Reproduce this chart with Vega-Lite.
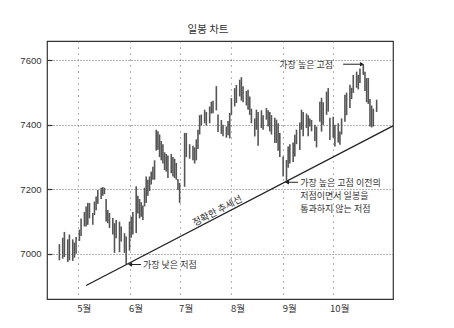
{
  "$schema": "https://vega.github.io/schema/vega-lite/v6.json",
  "width": 346,
  "height": 258,
  "autosize": "none",
  "padding": {"left": 47, "top": 41, "right": 61, "bottom": 29},
  "background": "white",
  "title": {"text": "일봉 차트", "font": "Noto Sans CJK KR", "fontSize": 10.5, "fontWeight": "normal", "color": "#333", "offset": 6, "dx": -12},
  "config": {
    "view": {"stroke": "#333", "strokeWidth": 1.2},
    "axis": {"title": null, "domain": false}
  },
  "datasets": {
    "bars": [
      {"date": "2000-04-20", "high": 7030, "low": 6980},
      {"date": "2000-04-22", "high": 7050, "low": 6985},
      {"date": "2000-04-23", "high": 7068, "low": 6990},
      {"date": "2000-04-25", "high": 7045, "low": 6975},
      {"date": "2000-04-26", "high": 7060, "low": 6980},
      {"date": "2000-04-28", "high": 7045, "low": 6978},
      {"date": "2000-04-29", "high": 7035, "low": 6988},
      {"date": "2000-04-30", "high": 7052, "low": 7000},
      {"date": "2000-05-02", "high": 7075, "low": 7040},
      {"date": "2000-05-03", "high": 7110, "low": 7055},
      {"date": "2000-05-05", "high": 7130, "low": 7085},
      {"date": "2000-05-06", "high": 7147, "low": 7085},
      {"date": "2000-05-07", "high": 7158, "low": 7090},
      {"date": "2000-05-08", "high": 7158, "low": 7110},
      {"date": "2000-05-10", "high": 7127, "low": 7090},
      {"date": "2000-05-11", "high": 7162, "low": 7120},
      {"date": "2000-05-12", "high": 7178, "low": 7135},
      {"date": "2000-05-13", "high": 7198, "low": 7155},
      {"date": "2000-05-15", "high": 7205, "low": 7170},
      {"date": "2000-05-16", "high": 7207, "low": 7180},
      {"date": "2000-05-17", "high": 7205, "low": 7185},
      {"date": "2000-05-18", "high": 7170, "low": 7100},
      {"date": "2000-05-19", "high": 7136, "low": 7095},
      {"date": "2000-05-20", "high": 7127, "low": 7080},
      {"date": "2000-05-22", "high": 7111, "low": 7060},
      {"date": "2000-05-23", "high": 7095, "low": 7003},
      {"date": "2000-05-24", "high": 7105, "low": 7048},
      {"date": "2000-05-26", "high": 7100, "low": 7005},
      {"date": "2000-05-27", "high": 7085, "low": 7038},
      {"date": "2000-05-29", "high": 7064, "low": 7003},
      {"date": "2000-05-30", "high": 7054, "low": 6968},
      {"date": "2000-06-01", "high": 7100, "low": 7010},
      {"date": "2000-06-02", "high": 7115, "low": 7050},
      {"date": "2000-06-03", "high": 7130, "low": 7060},
      {"date": "2000-06-05", "high": 7210, "low": 7065},
      {"date": "2000-06-06", "high": 7180, "low": 7125},
      {"date": "2000-06-07", "high": 7170, "low": 7110},
      {"date": "2000-06-08", "high": 7160, "low": 7115},
      {"date": "2000-06-09", "high": 7150, "low": 7105},
      {"date": "2000-06-10", "high": 7205, "low": 7147},
      {"date": "2000-06-11", "high": 7240, "low": 7158},
      {"date": "2000-06-12", "high": 7230, "low": 7180},
      {"date": "2000-06-13", "high": 7240, "low": 7195},
      {"date": "2000-06-14", "high": 7255, "low": 7215},
      {"date": "2000-06-15", "high": 7270, "low": 7230},
      {"date": "2000-06-16", "high": 7290, "low": 7230},
      {"date": "2000-06-17", "high": 7385, "low": 7320},
      {"date": "2000-06-18", "high": 7380, "low": 7323},
      {"date": "2000-06-19", "high": 7370, "low": 7300},
      {"date": "2000-06-20", "high": 7350, "low": 7290},
      {"date": "2000-06-21", "high": 7340, "low": 7280},
      {"date": "2000-06-22", "high": 7315, "low": 7260},
      {"date": "2000-06-23", "high": 7310, "low": 7255},
      {"date": "2000-06-24", "high": 7305, "low": 7235},
      {"date": "2000-06-26", "high": 7310, "low": 7250},
      {"date": "2000-06-27", "high": 7300, "low": 7240},
      {"date": "2000-06-28", "high": 7295, "low": 7235},
      {"date": "2000-06-29", "high": 7282, "low": 7230},
      {"date": "2000-06-30", "high": 7232, "low": 7198},
      {"date": "2000-07-01", "high": 7220, "low": 7158},
      {"date": "2000-07-04", "high": 7375, "low": 7208},
      {"date": "2000-07-05", "high": 7375, "low": 7300},
      {"date": "2000-07-07", "high": 7340, "low": 7295},
      {"date": "2000-07-09", "high": 7335, "low": 7290},
      {"date": "2000-07-10", "high": 7330, "low": 7280},
      {"date": "2000-07-11", "high": 7355, "low": 7290},
      {"date": "2000-07-12", "high": 7385, "low": 7325},
      {"date": "2000-07-13", "high": 7430, "low": 7370},
      {"date": "2000-07-14", "high": 7432, "low": 7398},
      {"date": "2000-07-16", "high": 7447, "low": 7405},
      {"date": "2000-07-17", "high": 7440, "low": 7398},
      {"date": "2000-07-19", "high": 7457, "low": 7405},
      {"date": "2000-07-20", "high": 7472, "low": 7435},
      {"date": "2000-07-21", "high": 7475, "low": 7436},
      {"date": "2000-07-23", "high": 7520, "low": 7445},
      {"date": "2000-07-24", "high": 7432, "low": 7378},
      {"date": "2000-07-26", "high": 7415, "low": 7372},
      {"date": "2000-07-27", "high": 7400, "low": 7365},
      {"date": "2000-07-29", "high": 7395, "low": 7360},
      {"date": "2000-07-30", "high": 7412, "low": 7368},
      {"date": "2000-07-31", "high": 7437, "low": 7358},
      {"date": "2000-08-01", "high": 7483, "low": 7430},
      {"date": "2000-08-03", "high": 7514, "low": 7457},
      {"date": "2000-08-04", "high": 7524, "low": 7468},
      {"date": "2000-08-06", "high": 7540, "low": 7488},
      {"date": "2000-08-07", "high": 7548, "low": 7475},
      {"date": "2000-08-08", "high": 7520, "low": 7470},
      {"date": "2000-08-10", "high": 7505, "low": 7460},
      {"date": "2000-08-11", "high": 7509, "low": 7447},
      {"date": "2000-08-12", "high": 7488, "low": 7431},
      {"date": "2000-08-13", "high": 7450, "low": 7405},
      {"date": "2000-08-15", "high": 7420, "low": 7364},
      {"date": "2000-08-16", "high": 7447, "low": 7385},
      {"date": "2000-08-17", "high": 7440, "low": 7335},
      {"date": "2000-08-19", "high": 7445, "low": 7390},
      {"date": "2000-08-20", "high": 7430, "low": 7385},
      {"date": "2000-08-22", "high": 7452, "low": 7416},
      {"date": "2000-08-23", "high": 7445, "low": 7395},
      {"date": "2000-08-24", "high": 7440, "low": 7380},
      {"date": "2000-08-25", "high": 7430, "low": 7370},
      {"date": "2000-08-27", "high": 7422, "low": 7344},
      {"date": "2000-08-28", "high": 7416, "low": 7344},
      {"date": "2000-08-29", "high": 7405, "low": 7320},
      {"date": "2000-08-30", "high": 7375, "low": 7300},
      {"date": "2000-09-01", "high": 7302, "low": 7240},
      {"date": "2000-09-03", "high": 7291, "low": 7227},
      {"date": "2000-09-04", "high": 7333, "low": 7267},
      {"date": "2000-09-05", "high": 7340, "low": 7280},
      {"date": "2000-09-07", "high": 7345, "low": 7285},
      {"date": "2000-09-08", "high": 7369, "low": 7302},
      {"date": "2000-09-09", "high": 7385, "low": 7340},
      {"date": "2000-09-11", "high": 7407, "low": 7322},
      {"date": "2000-09-12", "high": 7447, "low": 7385},
      {"date": "2000-09-13", "high": 7440, "low": 7365},
      {"date": "2000-09-15", "high": 7435, "low": 7390},
      {"date": "2000-09-16", "high": 7430, "low": 7365},
      {"date": "2000-09-17", "high": 7420, "low": 7395},
      {"date": "2000-09-18", "high": 7415, "low": 7380},
      {"date": "2000-09-20", "high": 7400, "low": 7350},
      {"date": "2000-09-21", "high": 7395, "low": 7330},
      {"date": "2000-09-23", "high": 7472, "low": 7410},
      {"date": "2000-09-24", "high": 7484, "low": 7379},
      {"date": "2000-09-25", "high": 7470, "low": 7400},
      {"date": "2000-09-27", "high": 7503, "low": 7431},
      {"date": "2000-09-28", "high": 7514, "low": 7441},
      {"date": "2000-09-29", "high": 7422, "low": 7353},
      {"date": "2000-10-01", "high": 7425, "low": 7360},
      {"date": "2000-10-02", "high": 7400, "low": 7333},
      {"date": "2000-10-04", "high": 7405, "low": 7345},
      {"date": "2000-10-05", "high": 7379, "low": 7338},
      {"date": "2000-10-06", "high": 7420, "low": 7370},
      {"date": "2000-10-08", "high": 7493, "low": 7410},
      {"date": "2000-10-09", "high": 7500, "low": 7430},
      {"date": "2000-10-11", "high": 7524, "low": 7452},
      {"date": "2000-10-12", "high": 7515, "low": 7480},
      {"date": "2000-10-13", "high": 7555, "low": 7499},
      {"date": "2000-10-15", "high": 7565, "low": 7515},
      {"date": "2000-10-16", "high": 7555, "low": 7510},
      {"date": "2000-10-17", "high": 7575, "low": 7530},
      {"date": "2000-10-19", "high": 7588, "low": 7555},
      {"date": "2000-10-20", "high": 7565, "low": 7505},
      {"date": "2000-10-21", "high": 7545, "low": 7470},
      {"date": "2000-10-22", "high": 7545, "low": 7465},
      {"date": "2000-10-23", "high": 7480, "low": 7395},
      {"date": "2000-10-24", "high": 7460, "low": 7392},
      {"date": "2000-10-25", "high": 7450, "low": 7395},
      {"date": "2000-10-27", "high": 7478, "low": 7440}
    ],
    "trend": [
      {"date": "2000-05-06T00:00:00Z", "v": 6902},
      {"date": "2000-11-05T19:00:00Z", "v": 7397}
    ],
    "arrowsLeft": [
      {"tail": "2000-06-07T22:00:00Z", "tip": "2000-06-01T08:00:00Z", "v": 6967},
      {"tail": "2000-09-09T22:00:00Z", "tip": "2000-09-03T07:00:00Z", "v": 7222}
    ],
    "arrowsRight": [
      {"tail": "2000-10-06T22:00:00Z", "tip": "2000-10-18T05:00:00Z", "v": 7588}
    ],
    "notes": [
      {"date": "2000-06-09T02:00:00Z", "v": 6964, "label": "가장 낮은 저점"},
      {"date": "2000-08-29T17:00:00Z", "v": 7586, "label": "가장 높은 고점"},
      {"date": "2000-09-11T05:00:00Z", "v": 7221, "label": "가장 높은 고점 이전의"},
      {"date": "2000-09-11T05:00:00Z", "v": 7180, "label": "저점이면서 일봉을"},
      {"date": "2000-09-11T05:00:00Z", "v": 7139, "label": "통과하지 않는 저점"}
    ],
    "trendNote": [
      {"date": "2000-07-23T17:00:00Z", "v": 7133, "label": "정확한 추세선"}
    ]
  },
  "layer": [
    {
      "data": {"name": "bars"},
      "mark": {"type": "rule", "color": "#555", "strokeWidth": 1.6},
      "encoding": {
        "x": {
          "field": "date", "type": "temporal",
          "scale": {"type": "utc", "domain": [
            {"year": 2000, "month": 4, "date": 12, "hours": 14, "utc": true},
            {"year": 2000, "month": 11, "date": 5, "hours": 19, "utc": true}
          ]},
          "axis": {
            "values": [
              {"year": 2000, "month": 5, "date": 1, "utc": true},
              {"year": 2000, "month": 6, "date": 1, "utc": true},
              {"year": 2000, "month": 7, "date": 1, "utc": true},
              {"year": 2000, "month": 8, "date": 1, "utc": true},
              {"year": 2000, "month": 9, "date": 1, "utc": true},
              {"year": 2000, "month": 10, "date": 1, "utc": true}
            ],
            "format": "%-m월",
            "labelFont": "Noto Sans CJK KR", "labelFontSize": 9.5, "labelColor": "#333",
            "labelAlign": "center", "labelOffset": 6, "labelPadding": 4,
            "ticks": false, "grid": true, "gridDash": [1, 5], "gridColor": "#555", "gridWidth": 0.9
          }
        },
        "y": {
          "field": "low", "type": "quantitative",
          "scale": {"domain": [6860, 7660], "nice": false, "zero": false},
          "axis": {
            "values": [7000, 7200, 7400, 7600],
            "format": "d",
            "labelFont": "Liberation Sans", "labelFontSize": 9.5, "labelColor": "#333",
            "ticks": true, "tickSize": -5, "tickColor": "#333", "tickWidth": 1.2, "labelPadding": 11,
            "grid": true, "gridDash": [1, 2], "gridColor": "#555", "gridWidth": 0.9
          }
        },
        "y2": {"field": "high"}
      }
    },
    {
      "data": {"name": "trend"},
      "mark": {"type": "line", "color": "#222", "strokeWidth": 1.3},
      "encoding": {
        "x": {"field": "date", "type": "temporal"},
        "y": {"field": "v", "type": "quantitative"}
      }
    },
    {
      "data": {"name": "arrowsLeft", "format": {"parse": {"tail": "date", "tip": "date"}}},
      "mark": {"type": "rule", "color": "#222", "strokeWidth": 1},
      "encoding": {
        "x": {"field": "tail", "type": "temporal"},
        "x2": {"field": "tip"},
        "y": {"field": "v", "type": "quantitative"}
      }
    },
    {
      "data": {"name": "arrowsLeft", "format": {"parse": {"tip": "date"}}},
      "mark": {"type": "point", "shape": "triangle-left", "filled": true, "color": "#222", "size": 22, "opacity": 1},
      "encoding": {
        "x": {"field": "tip", "type": "temporal"},
        "y": {"field": "v", "type": "quantitative"}
      }
    },
    {
      "data": {"name": "arrowsRight", "format": {"parse": {"tail": "date", "tip": "date"}}},
      "mark": {"type": "rule", "color": "#222", "strokeWidth": 1},
      "encoding": {
        "x": {"field": "tail", "type": "temporal"},
        "x2": {"field": "tip"},
        "y": {"field": "v", "type": "quantitative"}
      }
    },
    {
      "data": {"name": "arrowsRight", "format": {"parse": {"tip": "date"}}},
      "mark": {"type": "point", "shape": "triangle-right", "filled": true, "color": "#222", "size": 22, "opacity": 1},
      "encoding": {
        "x": {"field": "tip", "type": "temporal"},
        "y": {"field": "v", "type": "quantitative"}
      }
    },
    {
      "data": {"name": "notes"},
      "mark": {"type": "text", "align": "left", "baseline": "middle", "font": "Noto Sans CJK KR", "fontSize": 9, "color": "#333"},
      "encoding": {
        "x": {"field": "date", "type": "temporal"},
        "y": {"field": "v", "type": "quantitative"},
        "text": {"field": "label", "type": "nominal"}
      }
    },
    {
      "data": {"name": "trendNote"},
      "mark": {"type": "text", "align": "center", "baseline": "middle", "angle": 332.5, "font": "Noto Sans CJK KR", "fontSize": 9.5, "color": "#333"},
      "encoding": {
        "x": {"field": "date", "type": "temporal"},
        "y": {"field": "v", "type": "quantitative"},
        "text": {"field": "label", "type": "nominal"}
      }
    }
  ]
}
